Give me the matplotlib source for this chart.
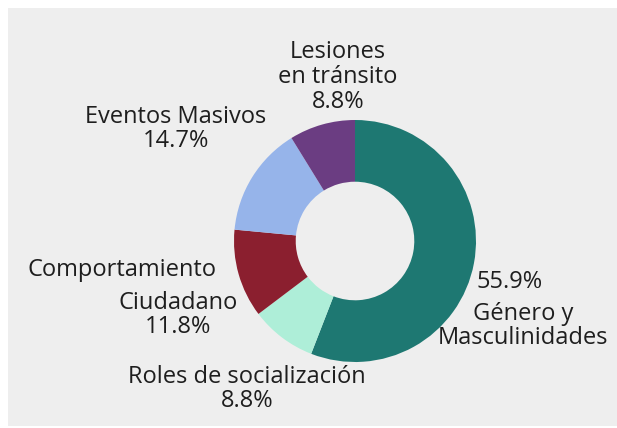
import matplotlib.pyplot as plt
from matplotlib.patches import Rectangle

# --- datos ---
categorias = ['Género y\nMasculinidades', 'Roles de socialización', 'Comportamiento\nCiudadano',
              'Eventos Masivos', 'Lesiones\nen tránsito']
valores = [55.9, 8.8, 11.8, 14.7, 8.8]
colores = ['#1e7872', '#aeeed8', '#8b1f2f', '#96b4ea', '#6b3d82']

plt.rcParams['font.family'] = ['Open Sans', 'DejaVu Sans']

W, H = 617, 428
fig = plt.figure(figsize=(W / 100, H / 100), dpi=100)
ax = fig.add_axes([0, 0, 1, 1])

# fondo gris del panel
ax.add_patch(Rectangle((8, 2), W - 8, H - 10, facecolor='#eeeeee', edgecolor='none', zorder=0))

# dona
cx, cy, r = 355, H - 241, 121
ax.pie(valores, colors=colores, startangle=90, counterclock=False,
       center=(cx, cy), radius=r, frame=True,
       wedgeprops=dict(width=r * 0.51, linewidth=0))
ax.set_xlim(0, W)
ax.set_ylim(0, H)
ax.set_aspect('equal')
ax.axis('off')

fs = 17
txt = dict(ha='center', va='center', fontsize=fs, color='#1e1e1e', linespacing=1.03)

ax.text(338, H - 77, f'Lesiones\nen tránsito\n{valores[4]}%', **txt)
ax.text(176, H - 129, f'Eventos Masivos\n{valores[3]}%', **txt)
ax.text(122, H - 270, 'Comportamiento', **txt)
ax.text(178, H - 315, f'Ciudadano\n{valores[2]}%', **txt)
ax.text(247, H - 389, f'Roles de socialización\n{valores[1]}%', **txt)
ax.text(510, H - 282, f'{valores[0]}%', **txt)
ax.text(523, H - 326, 'Género y\nMasculinidades', **txt)

fig.savefig('out.png', dpi=100)
